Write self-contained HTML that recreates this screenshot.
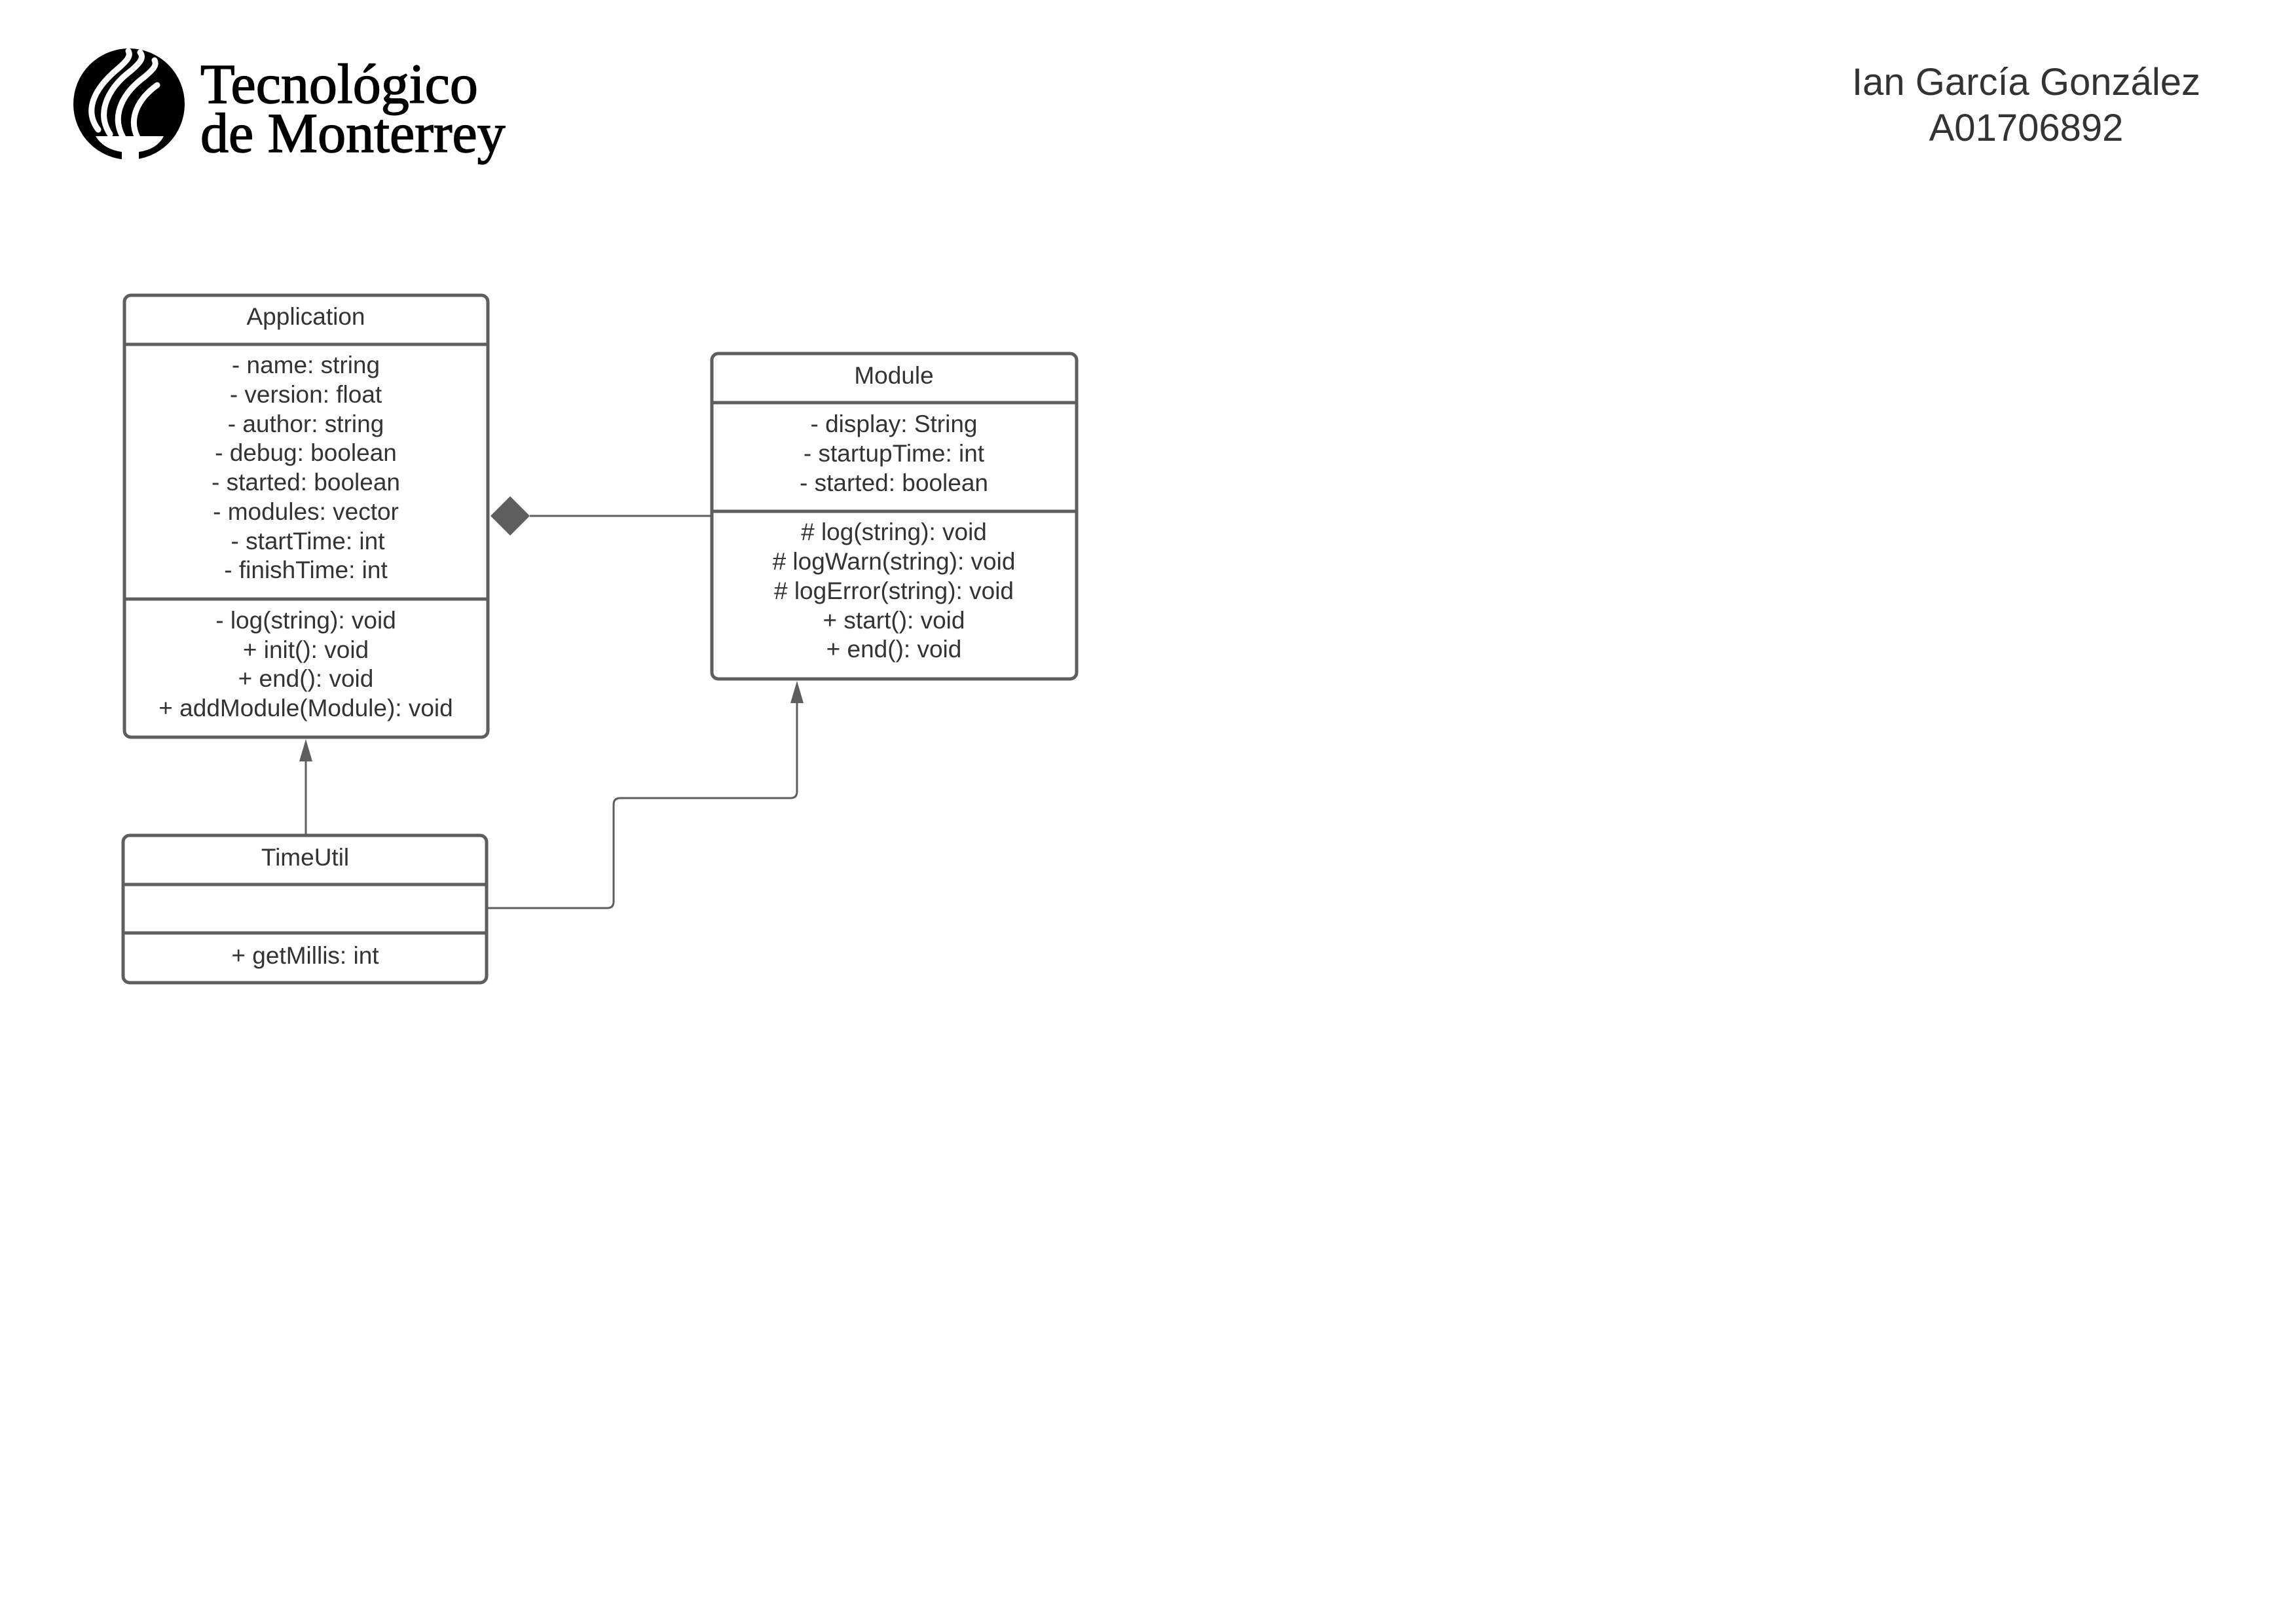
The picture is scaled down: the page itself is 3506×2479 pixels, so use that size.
<!DOCTYPE html>
<html><head><meta charset="utf-8">
<style>
html,body{margin:0;padding:0;background:#fff;}
svg{display:block;}
.t{font-family:"Liberation Sans",Arial,sans-serif;font-size:37px;fill:#333;text-anchor:middle;}
</style></head>
<body>
<svg width="3506" height="2479" viewBox="0 0 3506 2479" xmlns="http://www.w3.org/2000/svg">
<rect width="3506" height="2479" fill="#fff"/>

<!-- Logo -->
<g>
  <ellipse cx="197" cy="159" rx="85" ry="85" fill="#000"/>
  <g fill="none" stroke="#fff" stroke-width="9" stroke-linecap="round">
    <path d="M150 198 C125 165 150 130 180 105 C195 92 200 85 196 78"/>
    <path d="M168 205 C145 170 168 132 200 108 C215 95 220 88 214 80"/>
    <path d="M188 210 C168 175 190 140 220 118 C234 106 240 100 236 92"/>
    <path d="M210 210 C195 180 212 150 240 130"/>
  </g>
  <path d="M146 208 L250 208 Q240 228 212 232 L212 245 L186 245 L186 232 Q158 228 146 208 Z" fill="#fff"/>
  <text x="306" y="157" font-family="'Liberation Serif',serif" font-size="86" fill="#000" stroke="#000" stroke-width="1.5">Tecnológico</text>
  <text x="306" y="232" font-family="'Liberation Serif',serif" font-size="86" fill="#000" stroke="#000" stroke-width="1.5">de Monterrey</text>
</g>

<!-- Author -->
<text x="3094" y="145" font-family="'Liberation Sans',Arial,sans-serif" font-size="58" fill="#333" text-anchor="middle">Ian García González</text>
<text x="3094" y="215" font-family="'Liberation Sans',Arial,sans-serif" font-size="58" fill="#333" text-anchor="middle">A01706892</text>

<g stroke="#5e5e5e" fill="none">
  <rect x="190" y="451" width="555" height="675" rx="10" stroke-width="5" fill="#fff"/>
  <line x1="190" y1="526" x2="745" y2="526" stroke-width="5"/>
  <line x1="190" y1="915" x2="745" y2="915" stroke-width="5"/>
  <rect x="1087" y="540" width="557" height="497" rx="10" stroke-width="5" fill="#fff"/>
  <line x1="1087" y1="615" x2="1644" y2="615" stroke-width="5"/>
  <line x1="1087" y1="781" x2="1644" y2="781" stroke-width="5"/>
  <rect x="188" y="1276" width="555" height="225" rx="10" stroke-width="5" fill="#fff"/>
  <line x1="188" y1="1351" x2="743" y2="1351" stroke-width="5"/>
  <line x1="188" y1="1425" x2="743" y2="1425" stroke-width="5"/>
  <line x1="809" y1="788" x2="1087" y2="788" stroke-width="3"/>
  <line x1="467" y1="1276" x2="467" y2="1160" stroke-width="3"/>
  <path d="M743 1387 L927 1387 Q937 1387 937 1377 L937 1229 Q937 1219 947 1219 L1207 1219 Q1217 1219 1217 1209 L1217 1070" stroke-width="3"/>
</g>
<polygon points="749,788 779,758 809,788 779,818" fill="#5e5e5e"/>
<polygon points="467,1129 457,1163 477,1163" fill="#5e5e5e"/>
<polygon points="1217,1040 1207,1074 1227,1074" fill="#5e5e5e"/>

<text class="t" x="467" y="496">Application</text>
<text class="t" x="467" y="570">- name: string</text>
<text class="t" x="467" y="615">- version: float</text>
<text class="t" x="467" y="660">- author: string</text>
<text class="t" x="467" y="704">- debug: boolean</text>
<text class="t" x="467" y="749">- started: boolean</text>
<text class="t" x="467" y="794">- modules: vector</text>
<text class="t" x="470" y="839">- startTime: int</text>
<text class="t" x="467" y="883">- finishTime: int</text>
<text class="t" x="467" y="960">- log(string): void</text>
<text class="t" x="467" y="1005">+ init(): void</text>
<text class="t" x="467" y="1049">+ end(): void</text>
<text class="t" x="467" y="1094">+ addModule(Module): void</text>

<text class="t" x="1365" y="586">Module</text>
<text class="t" x="1365" y="660">- display: String</text>
<text class="t" x="1365" y="705">- startupTime: int</text>
<text class="t" x="1365" y="750">- started: boolean</text>
<text class="t" x="1365" y="825">#&#160;log(string): void</text>
<text class="t" x="1365" y="870">#&#160;logWarn(string): void</text>
<text class="t" x="1365" y="915">#&#160;logError(string): void</text>
<text class="t" x="1365" y="960">+ start(): void</text>
<text class="t" x="1365" y="1004">+ end(): void</text>

<text class="t" x="466" y="1322">TimeUtil</text>
<text class="t" x="466" y="1472">+ getMillis: int</text>
</svg>
</body></html>
